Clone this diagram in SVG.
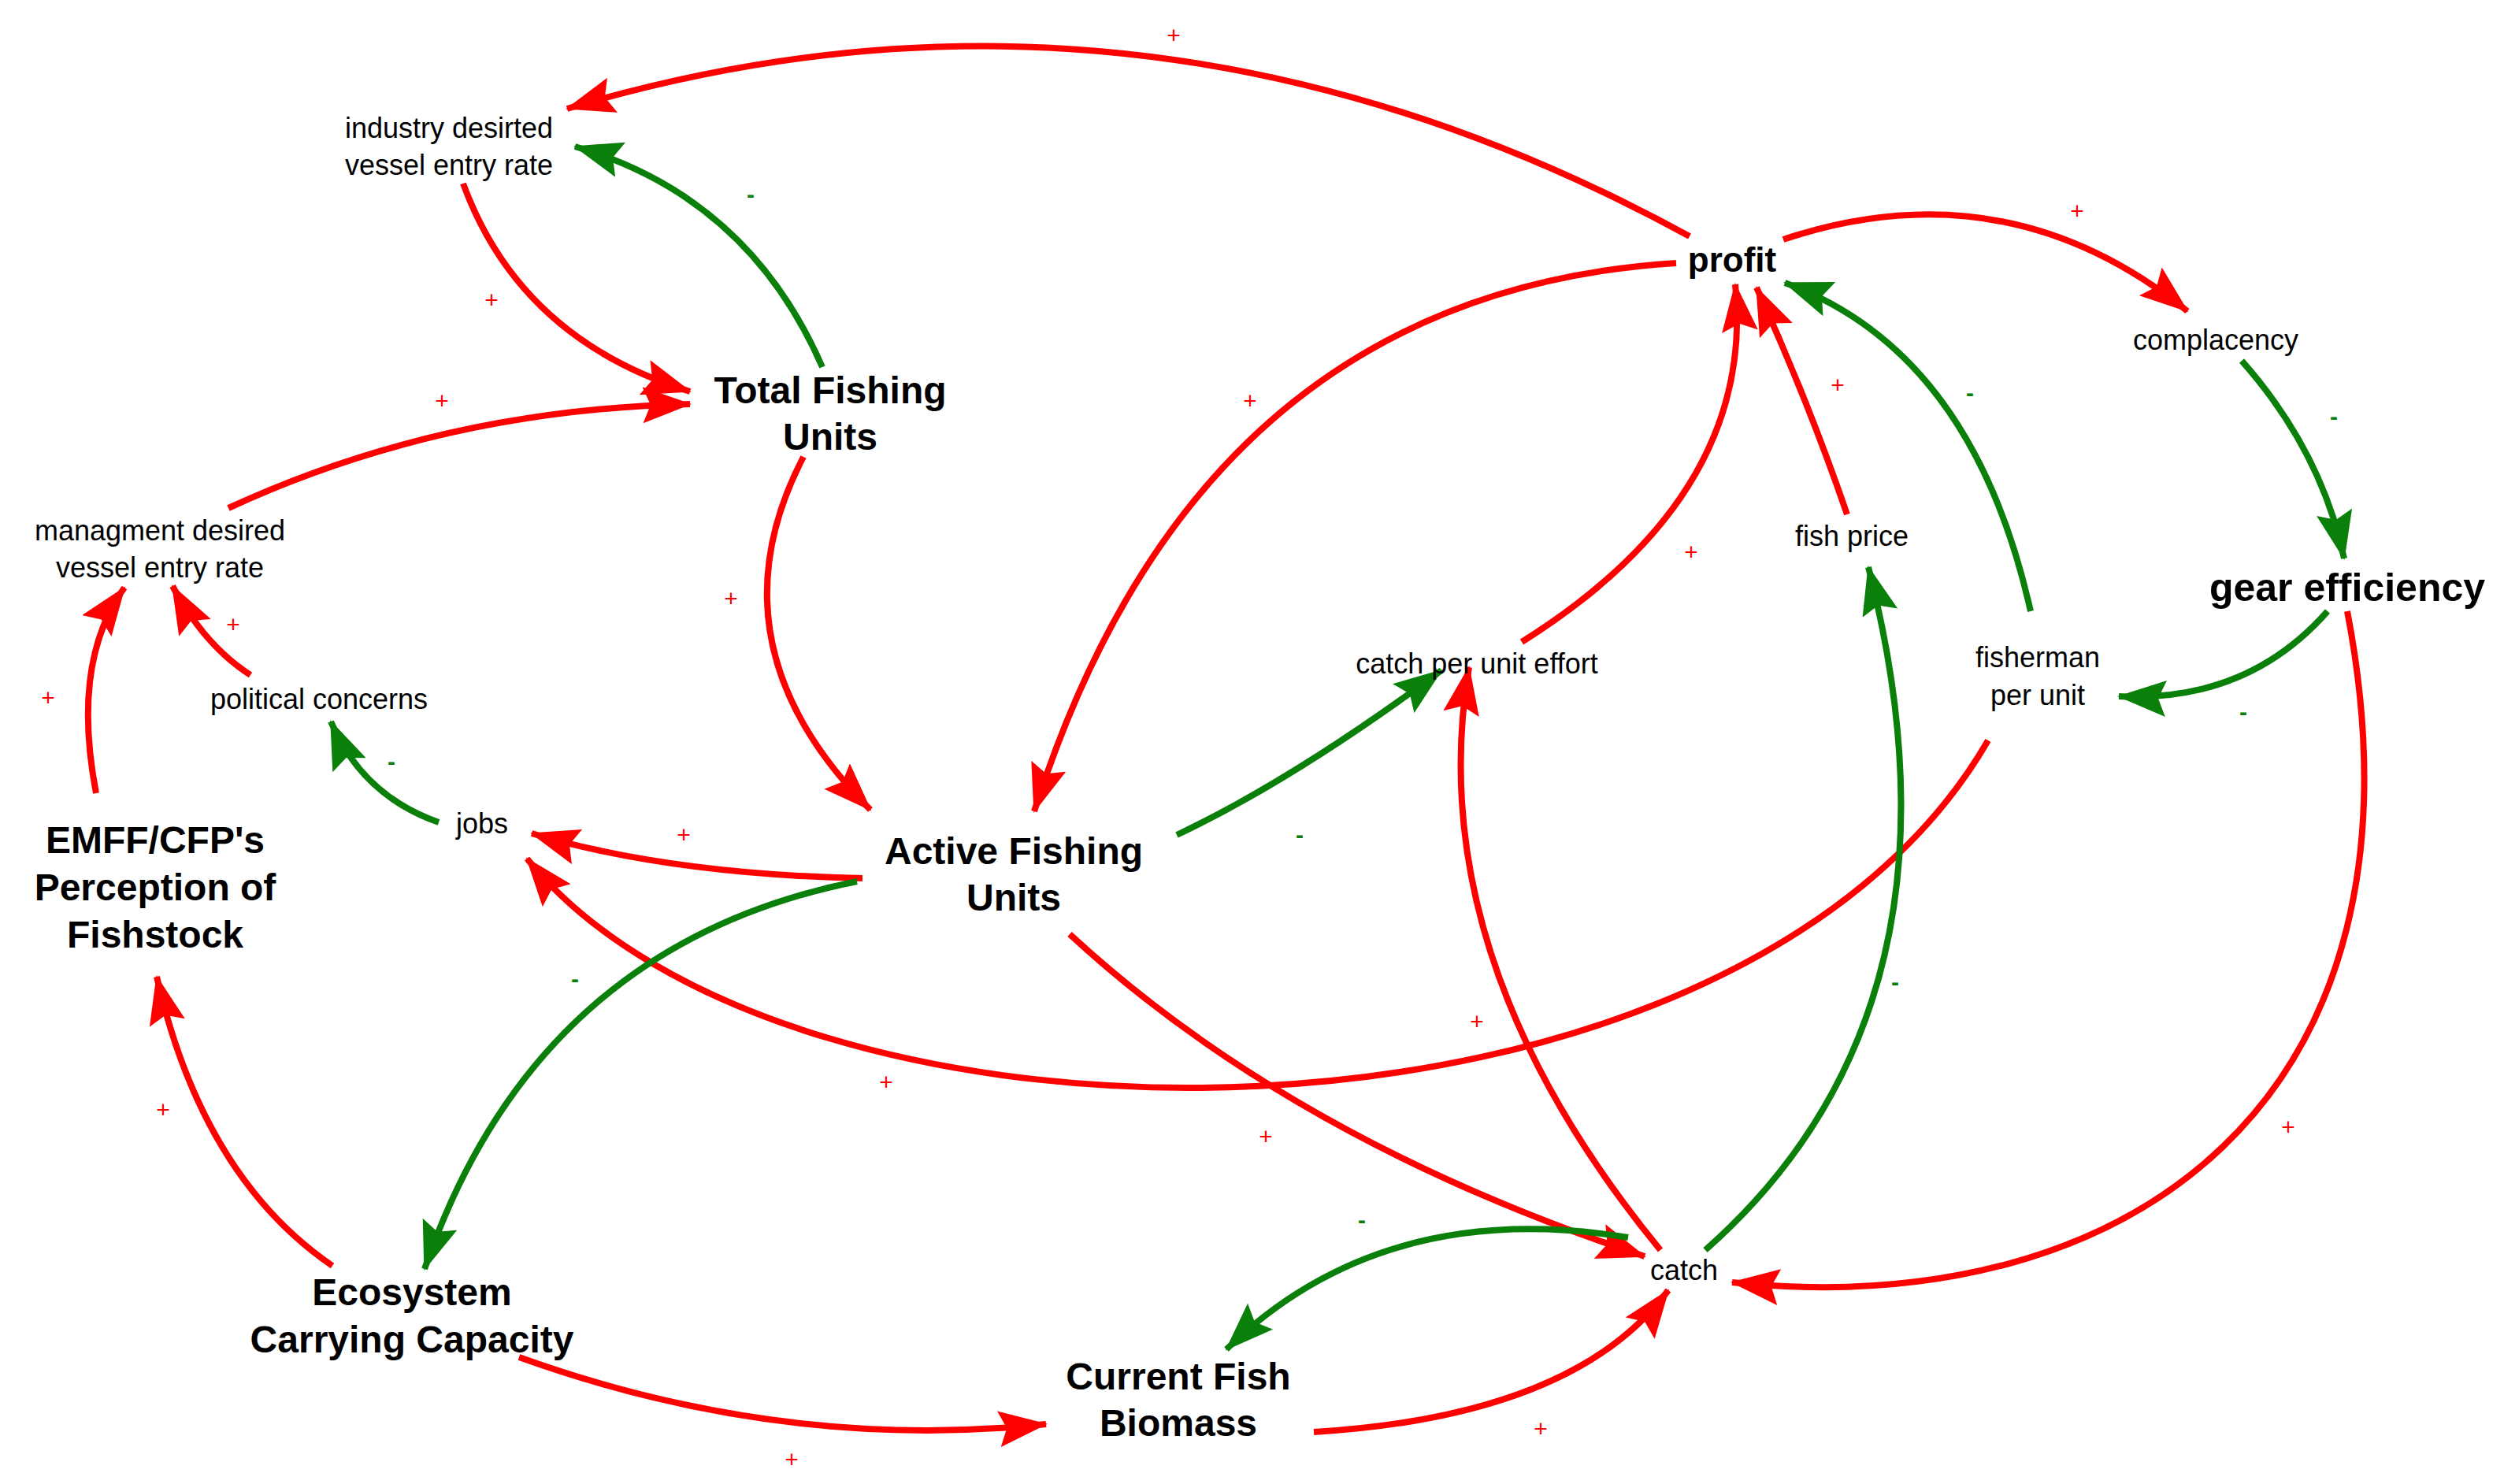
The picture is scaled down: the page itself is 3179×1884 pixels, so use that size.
<svg xmlns="http://www.w3.org/2000/svg" width="3179" height="1884" viewBox="0 0 3179 1884">
<defs>
<marker id="ar" markerUnits="userSpaceOnUse" markerWidth="64" markerHeight="46" refX="60" refY="23" orient="auto"><path d="M0,0 L62,23 L0,46 L10,23 z" fill="#ff0000"/></marker>
<marker id="ag" markerUnits="userSpaceOnUse" markerWidth="64" markerHeight="46" refX="60" refY="23" orient="auto"><path d="M0,0 L62,23 L0,46 L10,23 z" fill="#0a800a"/></marker>
<style>
.r{fill:none;stroke:#ff0000;stroke-width:8;marker-end:url(#ar)}
.g{fill:none;stroke:#0a800a;stroke-width:8;marker-end:url(#ag)}
.t{font-family:"Liberation Sans",Arial,sans-serif;font-size:36px;fill:#000;text-anchor:middle}
.b{font-family:"Liberation Sans",Arial,sans-serif;font-size:48px;font-weight:bold;fill:#000;text-anchor:middle}
.p{font-family:"Liberation Sans",Arial,sans-serif;font-size:30px;fill:#ff0000;text-anchor:middle}
.m{font-family:"Liberation Sans",Arial,sans-serif;font-size:30px;fill:#0a800a;text-anchor:middle;font-weight:bold}
</style>
</defs>
<rect width="3179" height="1884" fill="#fff"/>
<g id="connectors">
<path class="r" d="M2145,300 Q1450,-80 720,138"/>
<path class="g" d="M1044,466 Q950,250 730,186"/>
<path class="r" d="M588,233 Q660,430 876,497"/>
<path class="r" d="M290,645 Q560,520 876,513"/>
<path class="r" d="M318,857 Q260,820 219,744"/>
<path class="r" d="M122,1007 Q90,840 158,746"/>
<path class="g" d="M557,1044 Q460,1010 420,916"/>
<path class="r" d="M1095,1115 Q850,1110 675,1058"/>
<path class="r" d="M2524,940 C2200,1500 1000,1500 669,1090"/>
<path class="g" d="M1088,1119 Q680,1200 539,1611"/>
<path class="r" d="M422,1607 Q257,1494 199,1240"/>
<path class="r" d="M1020,580 Q896,818 1105,1028"/>
<path class="r" d="M2128,334 Q1523,372 1313,1030"/>
<path class="g" d="M1494,1060 Q1642,990 1830,851"/>
<path class="r" d="M1932,815 Q2230,628 2203,361"/>
<path class="r" d="M2345,653 Q2294,505 2230,365"/>
<path class="g" d="M2578,776 Q2504,446 2266,359"/>
<path class="r" d="M2264,304 Q2547,210 2777,395"/>
<path class="g" d="M2846,458 Q2947,572 2976,709"/>
<path class="g" d="M2955,776 Q2853,892 2690,884"/>
<path class="r" d="M2980,776 C3100,1400 2700,1680 2199,1628"/>
<path class="g" d="M2165,1587 Q2515,1278 2372,720"/>
<path class="r" d="M2108,1587 Q1803,1215 1865,847"/>
<path class="r" d="M1358,1186 Q1641,1447 2088,1595"/>
<path class="g" d="M2067,1571 Q1756,1520 1557,1713"/>
<path class="r" d="M1668,1818 Q1999,1798 2118,1638"/>
<path class="r" d="M659,1723 Q993,1843 1328,1808"/>
</g>
<g id="polarity">
<text class="p" x="1490" y="55">+</text>
<text class="m" x="953" y="257">-</text>
<text class="p" x="624" y="391">+</text>
<text class="p" x="561" y="519">+</text>
<text class="p" x="296" y="803">+</text>
<text class="p" x="61" y="896">+</text>
<text class="m" x="497" y="977">-</text>
<text class="p" x="868" y="1070">+</text>
<text class="p" x="1125" y="1384">+</text>
<text class="m" x="730" y="1253">-</text>
<text class="p" x="207" y="1419">+</text>
<text class="p" x="928" y="770">+</text>
<text class="p" x="1587" y="519">+</text>
<text class="m" x="1650" y="1070">-</text>
<text class="p" x="2147" y="711">+</text>
<text class="p" x="2333" y="499">+</text>
<text class="m" x="2501" y="509">-</text>
<text class="p" x="2637" y="278">+</text>
<text class="m" x="2963" y="539">-</text>
<text class="m" x="2848" y="914">-</text>
<text class="p" x="2905" y="1441">+</text>
<text class="m" x="2406" y="1257">-</text>
<text class="p" x="1875" y="1307">+</text>
<text class="p" x="1607" y="1453">+</text>
<text class="m" x="1729" y="1559">-</text>
<text class="p" x="1956" y="1824">+</text>
<text class="p" x="1005" y="1863">+</text>
</g>
<g id="industry"><text class="t" x="570" y="175">industry desirted</text><text class="t" x="570" y="222">vessel entry rate</text></g>
<g id="tfu"><text class="b" x="1054" y="512">Total Fishing</text><text class="b" x="1054" y="571">Units</text></g>
<g id="managment"><text class="t" x="203" y="686">managment desired</text><text class="t" x="203" y="733">vessel entry rate</text></g>
<g id="political"><text class="t" x="405" y="900">political concerns</text></g>
<g id="jobs"><text class="t" x="612" y="1058">jobs</text></g>
<g id="emff"><text class="b" x="197" y="1083">EMFF/CFP's</text><text class="b" x="197" y="1143">Perception of</text><text class="b" x="197" y="1203">Fishstock</text></g>
<g id="afu"><text class="b" x="1287" y="1097">Active Fishing</text><text class="b" x="1287" y="1156">Units</text></g>
<g id="ecosystem"><text class="b" x="523" y="1657">Ecosystem</text><text class="b" x="523" y="1717">Carrying Capacity</text></g>
<g id="biomass"><text class="b" x="1496" y="1764">Current Fish</text><text class="b" x="1496" y="1823">Biomass</text></g>
<g id="catch"><text class="t" x="2138" y="1625">catch</text></g>
<g id="cpue"><text class="t" x="1875" y="855">catch per unit effort</text></g>
<g id="profit"><text class="b" x="2199" y="345" style="font-size:44px">profit</text></g>
<g id="fishprice"><text class="t" x="2351" y="693">fish price</text></g>
<g id="fisherman"><text class="t" x="2587" y="847">fisherman</text><text class="t" x="2587" y="895">per unit</text></g>
<g id="complacency"><text class="t" x="2813" y="444">complacency</text></g>
<g id="gear"><text class="b" x="2980" y="763" style="font-size:50px">gear efficiency</text></g>
</svg>
